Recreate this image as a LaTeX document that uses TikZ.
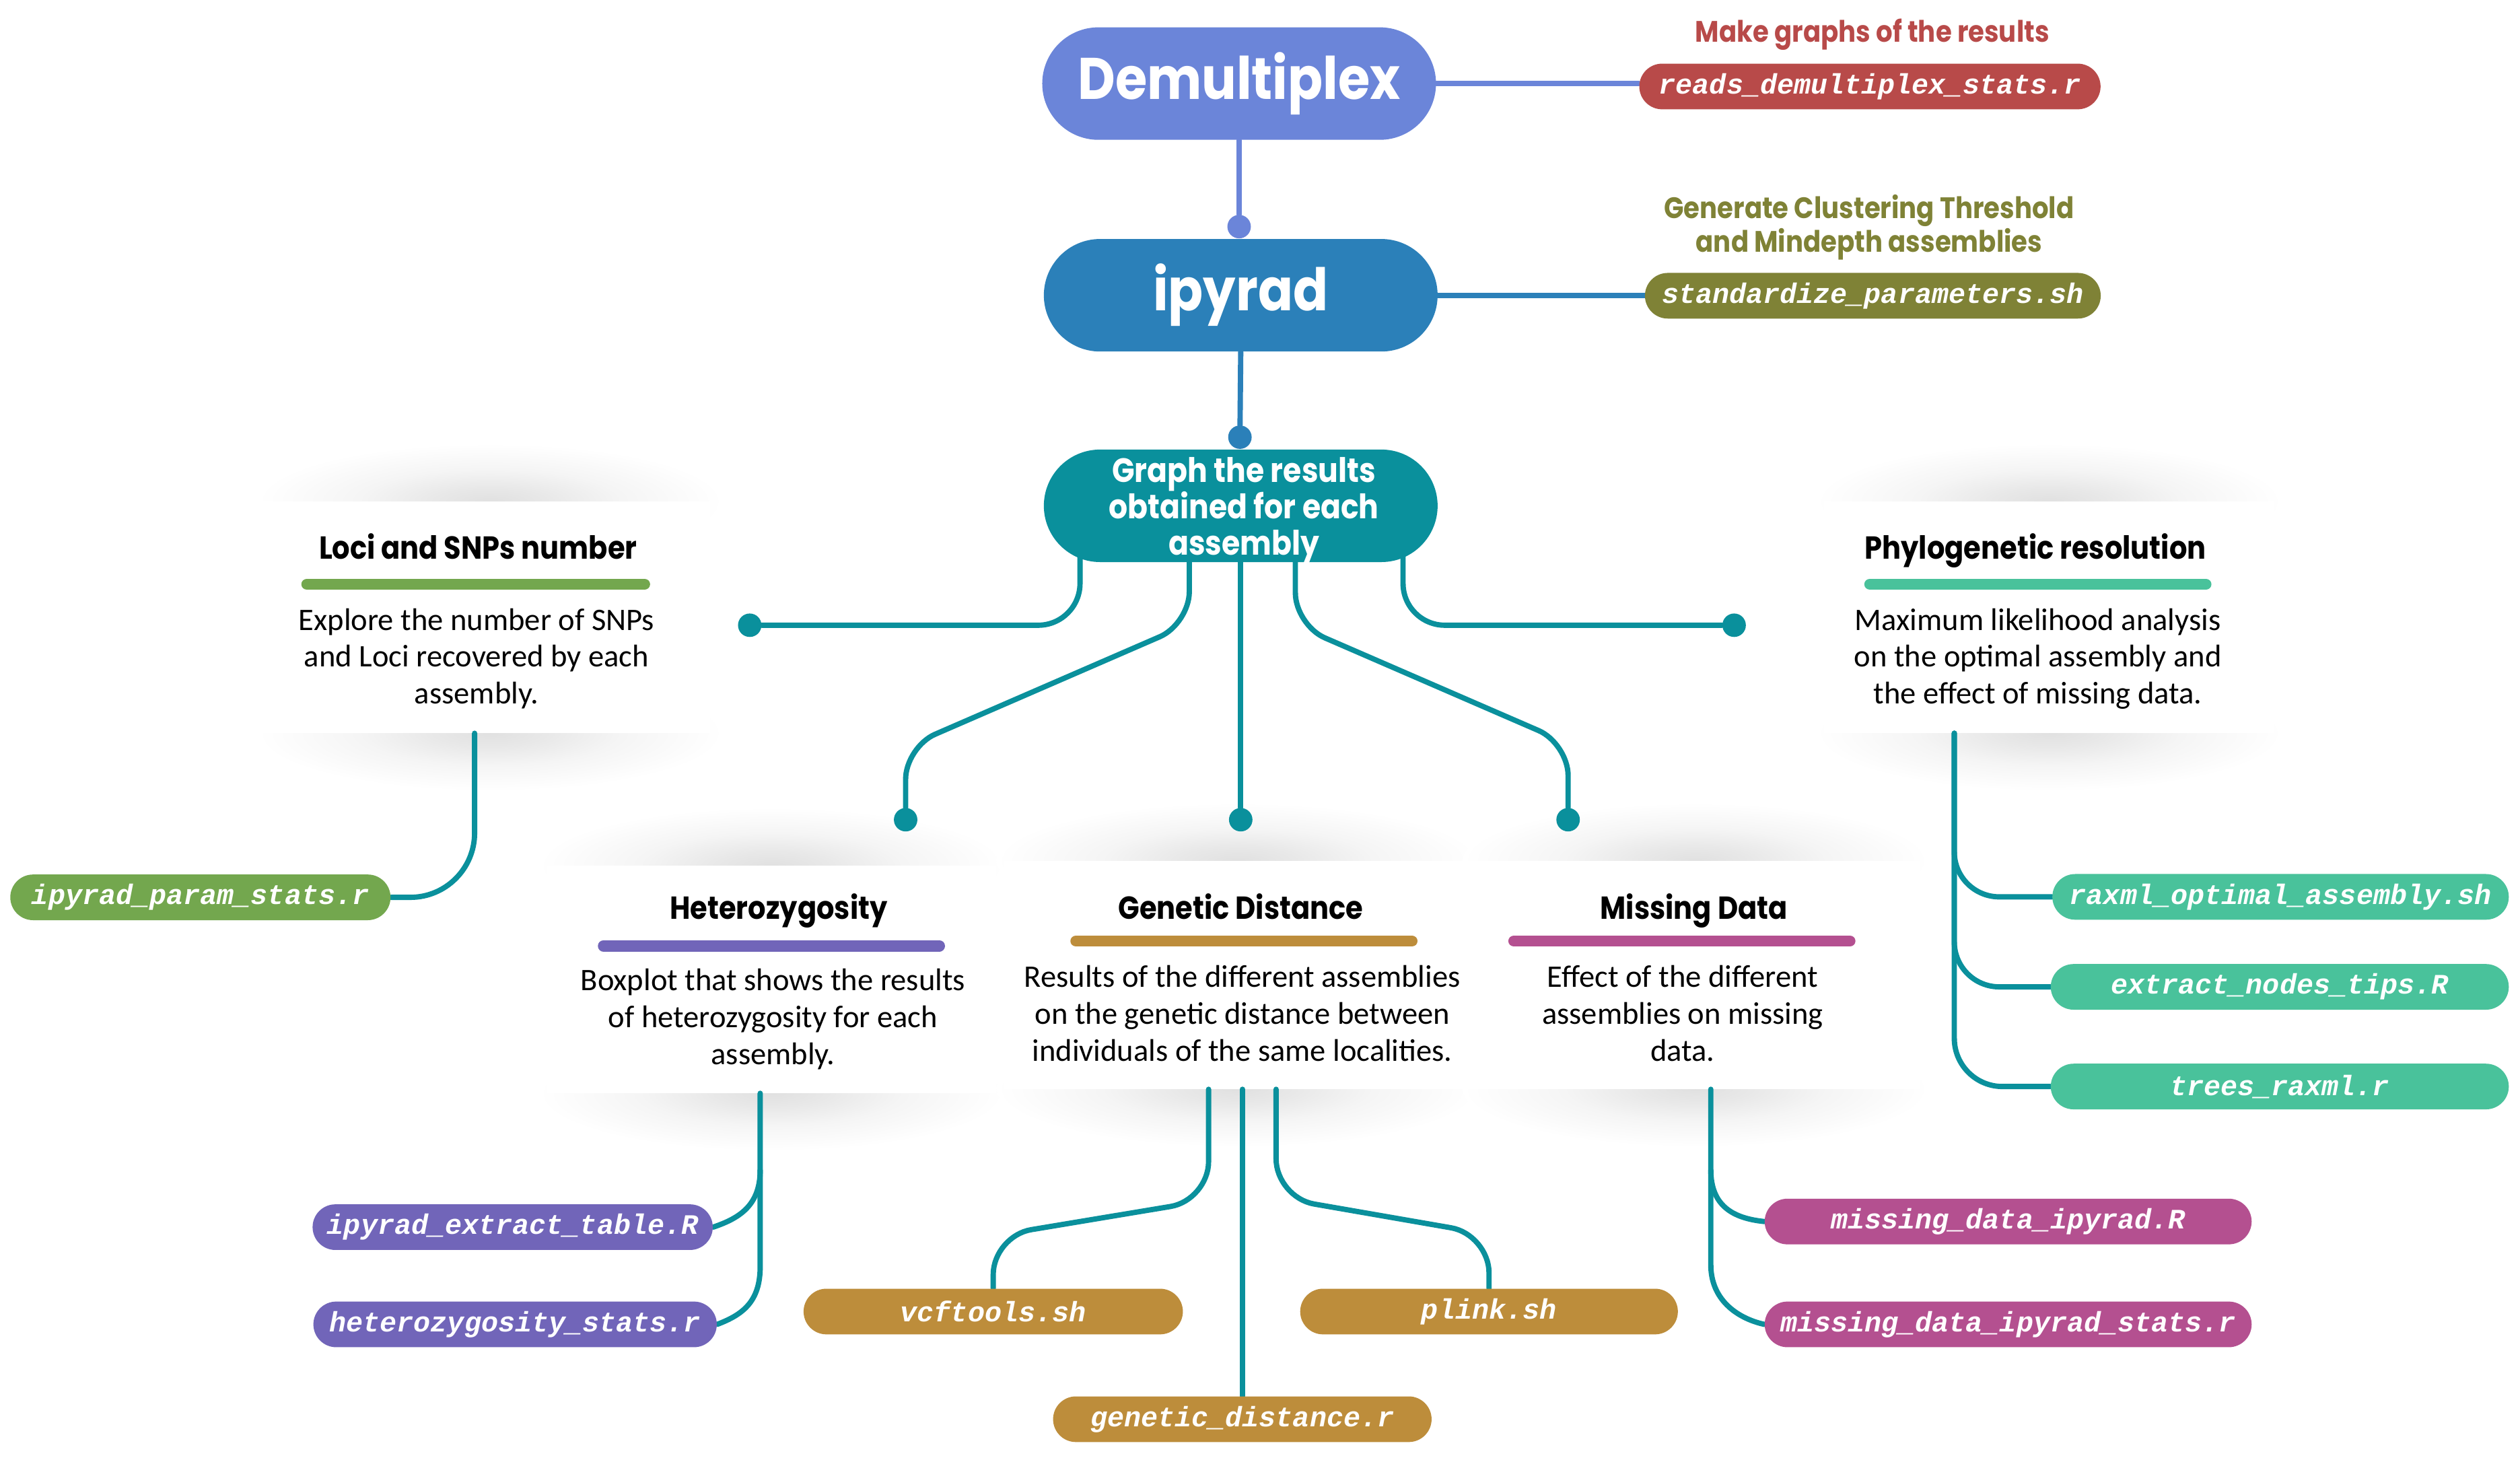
\documentclass[tikz,border=0pt]{standalone}
\usepackage{fontspec}
\usetikzlibrary{shapes.misc}
\setmainfont{Carlito}
\newfontfamily\headfont[FakeStretch=0.88]{Poppins}
\newfontfamily\bodyfont{Carlito}
\newfontfamily\codefont{Liberation Mono}
\definecolor{demu}{HTML}{6B85D9}
\definecolor{ipy}{HTML}{2B80B9}
\definecolor{tealc}{HTML}{0A909C}
\definecolor{redc}{HTML}{B84A49}
\definecolor{olivec}{HTML}{7F8236}
\definecolor{greenc}{HTML}{73A74E}
\definecolor{mintc}{HTML}{49C29B}
\definecolor{purplec}{HTML}{7165B9}
\definecolor{goldc}{HTML}{BD8D3B}
\definecolor{magc}{HTML}{B45090}
\pgfdeclarelayer{back}
\pgfdeclarelayer{conns}
\pgfsetlayers{back,conns,main}
\pgfdeclareradialshading{cardshade}{\pgfpoint{0bp}{0bp}}{color(0bp)=(black!12); color(6bp)=(black!9); color(14bp)=(black!4); color(25bp)=(white); color(50bp)=(white)}
\tikzset{
  conn/.style={line width=3.3pt, draw=tealc, line cap=round},
  dotnode/.style={circle, fill=#1, inner sep=0pt, minimum size=14.6pt},
  dotnode/.default=tealc,
  bignode/.style={rounded rectangle, fill=#1, minimum width=245pt, minimum height=70pt, inner sep=0pt, text=white, align=center},
  pill/.style={rounded rectangle, fill=#1, minimum height=28.4pt, inner sep=0pt, text=white, font=\codefont\bfseries\itshape\fontsize{17.5}{20}\selectfont},
  card/.style={rectangle, fill=white, inner sep=0pt},
  cardshadow/.style={shading=cardshade},
  cardtitle/.style={anchor=base, inner sep=0pt, font=\headfont\bfseries\fontsize{19.8}{22}\selectfont},
  cardbody/.style={anchor=base, inner sep=0pt, align=center, font=\bodyfont\fontsize{19.5}{23}\selectfont},
  titlebar/.style={line width=7pt, line cap=round, draw=#1},
  note/.style={anchor=base, inner sep=0pt, align=center, text=#1, font=\headfont\bfseries\fontsize{18.4}{21}\selectfont},
}
\newcommand{\mycardshade}[4]{%
  \path[cardshadow] (#1,#2) ellipse [x radius=#4pt, y radius=36pt];
  \path[cardshadow] (#1,#3) ellipse [x radius=#4pt, y radius=36pt];}
\begin{document}
\begin{tikzpicture}[x=1pt,y=-1pt]
\useasboundingbox (0,0) rectangle (1568,908);

% ---------- cards with shadows ----------
\begin{pgfonlayer}{back}
\fill[white] (0,0) rectangle (1568,908);
\mycardshade{305}{312}{456}{145}
\mycardshade{1275}{312}{456}{145}
\mycardshade{480}{538.5}{680}{145}
\mycardshade{770}{535.6}{677.5}{150}
\mycardshade{1055}{535.6}{677.5}{145}
\node[card, minimum width=280pt, minimum height=144pt] (loci) at (302,384) {};
\node[card, minimum width=280pt, minimum height=144pt] (phylo) at (1275,384) {};
\node[card, minimum width=280pt, minimum height=141.5pt] (het) at (480,609.25) {};
\node[card, minimum width=290pt, minimum height=141.9pt] (gen) at (770,606.55) {};
\node[card, minimum width=280pt, minimum height=141.9pt] (miss) at (1055,606.55) {};
\end{pgfonlayer}

% ---------- main nodes ----------
\node[bignode=demu, font=\headfont\bfseries\fontsize{36.5}{40}\selectfont] (demux) at (771,52) {Demultiplex};
\node[bignode=ipy, font=\headfont\bfseries\fontsize{36.5}{40}\selectfont] (ipyrad) at (772,183.7) {ipyrad};
\node[bignode=tealc] (graph) at (772,314.7) {};
\node[anchor=base, inner sep=0pt, align=center, text=white, font=\headfont\bfseries\fontsize{21}{22.7}\selectfont] (graphtxt) at (774,345.4) {Graph the results\\obtained for each\\assembly};

\node[note=redc] (noteA) at (1165,26.2) {Make graphs of the results};
\node[note=olivec] (noteB) at (1163,157) {Generate Clustering Threshold\\and Mindepth assemblies};

% ---------- pills ----------
\node[pill=redc, minimum width=287pt] (reads) at (1163.5,53.8) {reads\_demultiplex\_stats.r};
\node[pill=olivec, minimum width=283.6pt] (stdp) at (1165.3,184) {standardize\_parameters.sh};
\node[pill=greenc, minimum width=236.6pt] (ipps) at (124.7,558.3) {ipyrad\_param\_stats.r};
\node[pill=mintc, minimum width=284pt] (raxml) at (1419,558) {raxml\_optimal\_assembly.sh};
\node[pill=mintc, minimum width=285pt] (extr) at (1418.5,614) {extract\_nodes\_tips.R};
\node[pill=mintc, minimum width=285pt] (trees) at (1418.5,676) {trees\_raxml.r};
\node[pill=purplec, minimum width=249pt] (iext) at (319,763.5) {ipyrad\_extract\_table.R};
\node[pill=purplec, minimum width=251pt] (hets) at (320.5,824) {heterozygosity\_stats.r};
\node[pill=goldc, minimum width=236pt] (vcf) at (618,816) {vcftools.sh};
\node[pill=goldc, minimum width=235.5pt] (gd) at (773,883) {genetic\_distance.r};
\node[pill=goldc, minimum width=235pt] (plink) at (926.5,816) {plink.sh};
\node[pill=magc, minimum width=303pt] (mdr) at (1249.5,760) {missing\_data\_ipyrad.R};
\node[pill=magc, minimum width=303pt] (mds) at (1249.5,824) {missing\_data\_ipyrad\_stats.r};

% ---------- dots ----------
\node[dotnode=demu] (d1) at (771,141) {};
\node[dotnode=ipy] (d2) at (771.5,272) {};
\node[dotnode] (dL) at (466.5,389) {};
\node[dotnode] (dR) at (1079,389) {};
\node[dotnode] (dML) at (563.5,510) {};
\node[dotnode] (dM) at (772,510) {};
\node[dotnode] (dMR) at (975.7,510) {};

% ---------- card contents ----------
\node[cardtitle] (lociT) at (297.5,348) {Loci and SNPs number};
\draw[titlebar=greenc] (191,363.5) -- (401,363.5);
\node[cardbody] (lociB) at (296.5,438) {Explore the number of SNPs\\and Loci recovered by each\\assembly.};

\node[cardtitle] (phyT) at (1266.5,348) {Phylogenetic resolution};
\draw[titlebar=mintc] (1163.5,363.5) -- (1372.5,363.5);
\node[cardbody] (phyB) at (1268,438) {Maximum likelihood analysis\\on the optimal assembly and\\the effect of missing data.};

\node[cardtitle] (hetT) at (484.5,572) {Heterozygosity};
\draw[titlebar=purplec] (375.5,588.5) -- (584.5,588.5);
\node[cardbody] (hetB) at (481,662.3) {Boxplot that shows the results\\of heterozygosity for each\\assembly.};

\node[cardtitle] (genT) at (772,572) {Genetic Distance};
\draw[titlebar=goldc] (669.5,585.5) -- (878.5,585.5);
\node[cardbody] (genB) at (773,660.2) {Results of the different assemblies\\on the genetic distance between\\individuals of the same localities.};

\node[cardtitle] (misT) at (1054,572) {Missing Data};
\draw[titlebar=magc] (942,585.5) -- (1151,585.5);
\node[cardbody] (misB) at (1047,660.2) {Effect of the different\\assemblies on missing\\data.};

% ---------- connectors ----------
\begin{pgfonlayer}{conns}
\draw[conn, draw=demu] (demux.east) -- (demux.east -| reads.west);
\draw[conn, draw=demu] (demux.south) -- (d1);
\draw[conn, draw=ipy] (ipyrad.east) -- (ipyrad.east -| stdp.west);
\draw[conn, draw=ipy] (ipyrad.south) -- (d2);

\draw[conn, rounded corners=26pt] ([xshift=-100pt]graph.center) |- (dL);
\draw[conn, rounded corners=26pt] ([xshift=101pt]graph.center) |- (dR);
\draw[conn, rounded corners=20pt] ([xshift=-32pt]graph.center) -- (740,388.2) -- (563.5,464.8) -- (dML);
\draw[conn] (graph.center) -- (dM);
\draw[conn, rounded corners=20pt] ([xshift=34pt]graph.center) -- (806,388.9) -- (975.7,462.5) -- (dMR);

\draw[conn, rounded corners=40pt] ([xshift=-6.7pt]loci.south) |- (ipps.east);

\draw[conn, rounded corners=28pt] ([xshift=-59pt]phylo.south) |- (raxml.west);
\draw[conn, rounded corners=28pt] ([xshift=-59pt]phylo.south) |- (extr.west);
\draw[conn, rounded corners=30pt] ([xshift=-59pt]phylo.south) |- (trees.west);

\coordinate (hetj) at (473,728);
\draw[conn] ([xshift=-7pt]het.south) -- (473,788) .. controls (473,810) and (462,818) .. (hets.east);
\draw[conn] (hetj) .. controls (473,750) and (460,758) .. (iext.east);

\draw[conn, rounded corners=24pt] ([xshift=-18pt]gen.south) -- (752,746.7) -- (618,769) -- (vcf.north);
\draw[conn] ([xshift=3pt]gen.south) -- (gd.north);
\draw[conn, rounded corners=24pt] ([xshift=24pt]gen.south) -- (794,745) -- (926.5,768) -- (plink.north);

\coordinate (misj) at (1064.5,728);
\draw[conn] ([xshift=9.5pt]miss.south) -- (1064.5,787) .. controls (1064.5,808) and (1080,820) .. (mds.west);
\draw[conn] (misj) .. controls (1064.5,750) and (1078,758) .. (mdr.west);
\end{pgfonlayer}
\end{tikzpicture}
\end{document}
